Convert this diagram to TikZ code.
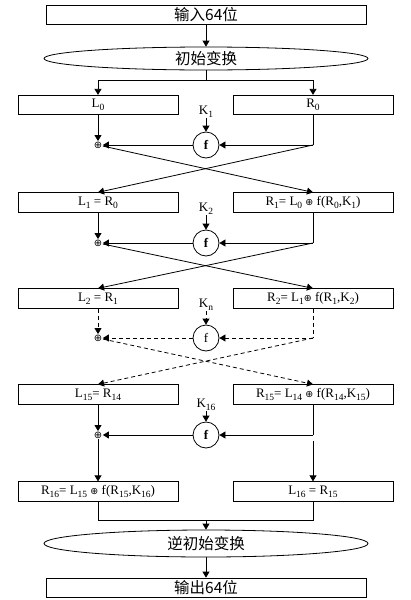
\documentclass[tikz,border=0pt]{standalone}
\usepackage{fontspec}
\setmainfont{Liberation Serif}
\newfontfamily\cjk{Noto Sans CJK SC}
\newfontfamily\symf{DejaVu Sans}
\usetikzlibrary{arrows.meta,shapes.geometric}
\newcommand\lo[1]{\raisebox{-2.8pt}{\fontsize{9.5}{9.5}\selectfont #1}}
\newcommand\xo{{\symf\fontsize{9.5}{9.5}\selectfont ⊕}}
\begin{document}
\begin{tikzpicture}[x=1pt,y=-1pt,line width=0.8pt,
  box/.style={draw, minimum width=160pt, minimum height=19.5pt, inner sep=0pt, font=\fontsize{13}{13}\selectfont},
  bigbox/.style={draw, minimum width=320pt, minimum height=19pt, inner sep=0pt, font=\cjk\fontsize{15.5}{15.5}\selectfont},
  ell/.style={draw, ellipse, minimum width=324pt, inner sep=0pt, font=\cjk\fontsize{15.5}{15.5}\selectfont},
  fnode/.style={draw, circle, minimum size=26pt, inner sep=0pt, font=\bfseries\fontsize{13}{13}\selectfont},
  xor/.style={inner sep=0.3pt, font=\symf\fontsize{10}{10}\selectfont},
  klab/.style={inner sep=0pt, font=\fontsize{13}{13}\selectfont},
  arr/.style={-{Triangle[length=6pt,width=7pt]}},
  dsh/.style={dashed, dash pattern=on 4pt off 3pt}]
\useasboundingbox (0,0) rectangle (410,600);
\node[bigbox] (in) at (206,14.5) {输入64位};
\node[ell, minimum height=23pt] (e1) at (206,58.5) {初始变换};
% row 0
\node[box] (L0) at (98,105) {L\lo{0}};
\node[box] (R0) at (313,105) {R\lo{0}};
\node[klab] (K1) at (206,112) {K\lo{1}};
\node[fnode] (f1) at (206,145) {f};
\node[xor] (x1) at (98,145) {⊕};
\coordinate (c1) at (313,145);
% row 1
\node[box] (L1) at (98,202.5) {L\lo{1} = R\lo{0}};
\node[box] (R1) at (313,202.5) {R\lo{1}= L\lo{0} \xo\ f(R\lo{0},K\lo{1})};
\node[klab] (K2) at (206,209) {K\lo{2}};
\node[fnode] (f2) at (206,243) {f};
\node[xor] (x2) at (98,243) {⊕};
\coordinate (c2) at (313,243);
% row 2
\node[box] (L2) at (98,298.5) {L\lo{2} = R\lo{1}};
\node[box] (R2) at (313,298.5) {R\lo{2}= L\lo{1}\xo\ f(R\lo{1},K\lo{2})};
\node[klab] (Kn) at (206,305) {K\lo{n}};
\node[fnode, font=\fontsize{13}{13}\selectfont] (f3) at (206,338) {f};
\node[xor] (x3) at (98,338) {⊕};
\coordinate (c3) at (313,338);
% row 15
\node[box] (L15) at (98,394.5) {L\lo{15}= R\lo{14}};
\node[box] (R15) at (313,394.5) {R\lo{15}= L\lo{14} \xo\ f(R\lo{14},K\lo{15})};
\node[klab] (K16) at (206,405) {K\lo{16}};
\node[fnode] (f4) at (206,435) {f};
\node[xor] (x4) at (98,435) {⊕};
\coordinate (c4) at (313,435);
\coordinate (c5) at (313,441);
% row 16
\node[box] (R16) at (98,491.5) {R\lo{16}= L\lo{15} \xo\ f(R\lo{15},K\lo{16})};
\node[box] (L16) at (313,491.5) {L\lo{16} = R\lo{15}};
\coordinate (j1) at (98,520);
\coordinate (j2) at (313,520);
\coordinate (jm) at (206,520);
\node[ell, minimum height=27pt] (e2) at (206,543.5) {逆初始变换};
\node[bigbox] (out) at (206,587.5) {输出64位};
% connectors top
\coordinate (s) at (206,80);
\draw[arr] (in) -- (e1);
\draw (e1.south) -- (s);
\draw[arr] (s) -| (L0.north);
\draw[arr] (s) -| (R0.north);
% round 1
\draw[arr] (L0) -- (x1);
\draw[arr] (K1) -- (f1);
\draw (R0) -- (c1);
\draw[arr] (c1) -- (f1);
\draw[arr] (f1) -- (x1);
\draw[arr] (x1) -- (R1.north);
\draw[arr] (c1) -- (L1.north);
% round 2
\draw[arr] (L1) -- (x2);
\draw[arr] (K2) -- (f2);
\draw (R1) -- (c2);
\draw[arr] (c2) -- (f2);
\draw[arr] (f2) -- (x2);
\draw[arr] (x2) -- (R2.north);
\draw[arr] (c2) -- (L2.north);
% round n (dashed)
\draw[arr,dsh] (L2) -- (x3);
\draw[arr,dsh] (Kn) -- (f3);
\draw[dsh] (R2) -- (c3);
\draw[arr,dsh] (c3) -- (f3);
\draw[arr,dsh] (f3) -- (x3);
\draw[arr,dsh] (x3) -- (R15.north);
\draw[arr,dsh] (c3) -- (L15.north);
% round 16
\draw[arr] (L15) -- (x4);
\draw[arr] (K16) -- (f4);
\draw (R15) -- (c4);
\draw[arr] (c4) -- (f4);
\draw[arr] (f4) -- (x4);
\draw[arr] (x4) -- (R16);
\draw[arr] (c5) -- (L16);
% bottom
\draw (R16) -- (j1) -- (j2) -- (L16);
\draw[arr] (jm) -- (e2);
\draw[arr] (e2) -- (out);
\end{tikzpicture}
\end{document}
